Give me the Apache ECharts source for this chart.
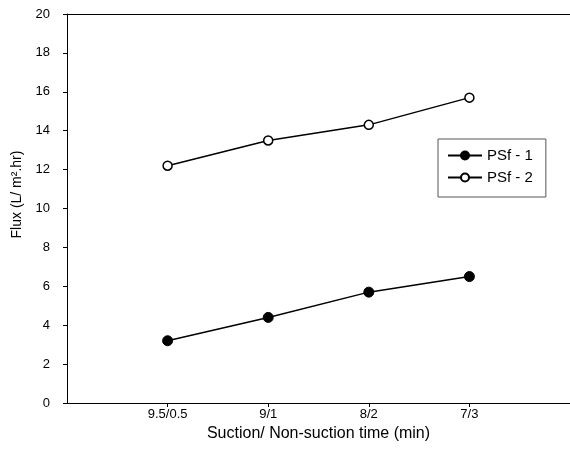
<!DOCTYPE html>
<html>
<head>
<meta charset="utf-8">
<script src="https://cdn.jsdelivr.net/npm/echarts@6/dist/echarts.min.js"></script>
<style>html,body{margin:0;padding:0;background:#fff;}#c{width:570px;height:461px;}</style>
</head>
<body>
<div id="c"></div>
<script>
const categories = ['9.5/0.5', '9/1', '8/2', '7/3'];
const categoryPos = [1, 2, 3, 4];
const psf1 = [3.2, 4.4, 5.7, 6.5];
const psf2 = [12.2, 13.5, 14.3, 15.7];

const chart = echarts.init(document.getElementById('c'), null, {renderer: 'canvas'});
const font = 'Liberation Sans, Arial, sans-serif';
const pairs = vals => vals.map((v, i) => [categoryPos[i], v]);

chart.setOption({
  animation: false,
  backgroundColor: '#fff',
  textStyle: {fontFamily: font},
  grid: {left: 67, top: 14, right: 0, bottom: 58, show: false},
  legend: {
    orient: 'vertical', left: 438, top: 139,
    padding: [9, 13, 12, 9],
    borderColor: '#555', borderWidth: 1,
    itemGap: 7, itemWidth: 34, itemHeight: 10,
    textStyle: {fontFamily: font, fontSize: 15, color: '#000'},
    data: ['PSf - 1', 'PSf - 2']
  },
  xAxis: [{
    type: 'value', min: 0, max: 5, interval: 1,
    name: 'Suction/ Non-suction time (min)',
    nameLocation: 'middle', nameGap: 23,
    nameTextStyle: {fontFamily: font, fontSize: 16, color: '#000'},
    axisLine: {lineStyle: {color: '#000', width: 1}},
    axisTick: {show: true, length: 4, inside: false, customValues: categoryPos, lineStyle: {color: '#000'}},
    axisLabel: {customValues: categoryPos, formatter: v => categories[categoryPos.indexOf(v)] || '', fontSize: 13, color: '#000', margin: 5, fontFamily: font},
    splitLine: {show: false}
  }, {
    type: 'value', min: 0, max: 5, position: 'top',
    axisLine: {show: true, lineStyle: {color: '#000', width: 1}},
    axisTick: {show: false}, axisLabel: {show: false}, splitLine: {show: false}
  }],
  yAxis: {
    type: 'value', min: 0, max: 20, interval: 2,
    name: 'Flux (L/ m².hr)',
    nameLocation: 'middle', nameGap: 39,
    nameTextStyle: {fontFamily: font, fontSize: 14, color: '#000', padding: [0, 0, 0, 28]},
    axisLine: {show: true, lineStyle: {color: '#000', width: 1}},
    axisTick: {show: true, length: 4, inside: false, lineStyle: {color: '#000'}},
    axisLabel: {fontSize: 13, color: '#000', margin: 17, fontFamily: font},
    splitLine: {show: false}
  },
  series: [
    {
      name: 'PSf - 1', type: 'line', data: pairs(psf1),
      symbol: 'circle', symbolSize: 10,
      lineStyle: {color: '#000', width: 1.5},
      itemStyle: {color: '#000', borderColor: '#000', borderWidth: 1}
    },
    {
      name: 'PSf - 2', type: 'line', data: pairs(psf2),
      symbol: 'circle', symbolSize: 9,
      lineStyle: {color: '#000', width: 1.5},
      itemStyle: {color: '#fff', borderColor: '#000', borderWidth: 1.5}
    }
  ]
});
</script>
</body>
</html>
